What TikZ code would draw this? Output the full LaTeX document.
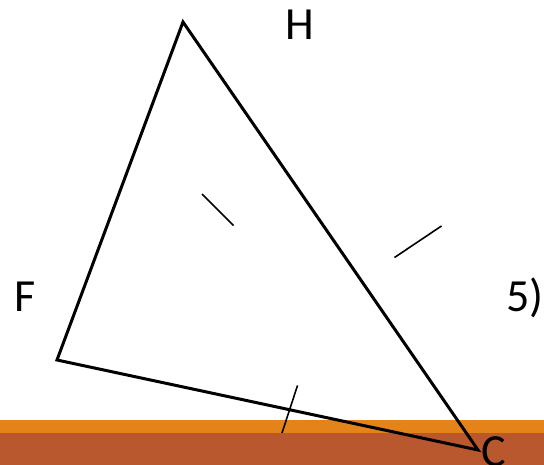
\documentclass[tikz,border=0pt]{standalone}
\usepackage{fontspec}
\setmainfont{Carlito}
\definecolor{bandorange}{HTML}{E3831A}
\definecolor{bandbrown}{HTML}{B9572E}
\begin{document}
\begin{tikzpicture}[x=1pt,y=-1pt,
  edge/.style={line width=3pt,line join=miter},
  tick/.style={line width=1.6pt},
  lbl/.style={inner sep=0pt,anchor=base,font=\fontsize{46}{50}\selectfont}]
\useasboundingbox (0,0) rectangle (544,465);
\fill[bandorange] (0,420) rectangle (544,433);
\fill[bandbrown] (0,433) rectangle (544,465);
\coordinate (Hv) at (183,22);
\coordinate (Fv) at (57,360);
\coordinate (Cv) at (478,450);
\draw[edge] (Hv) -- (Fv) -- (Cv) -- cycle;
\coordinate (t1a) at (202,194); \coordinate (t1b) at (233.5,225.5);
\coordinate (t2a) at (394.5,257.5); \coordinate (t2b) at (441.5,226);
\coordinate (t3a) at (297.5,385.5); \coordinate (t3b) at (282,433);
\draw[tick] (t1a) -- (t1b);
\draw[tick] (t2a) -- (t2b);
\draw[tick] (t3a) -- (t3b);
\node[lbl] (H) at (299.5,40) {H};
\node[lbl] (F) at (25,312) {F};
\node[lbl] (five) at (525,312) {5)};
\node[lbl] (C) at (493.5,466) {C};
\end{tikzpicture}
\end{document}
